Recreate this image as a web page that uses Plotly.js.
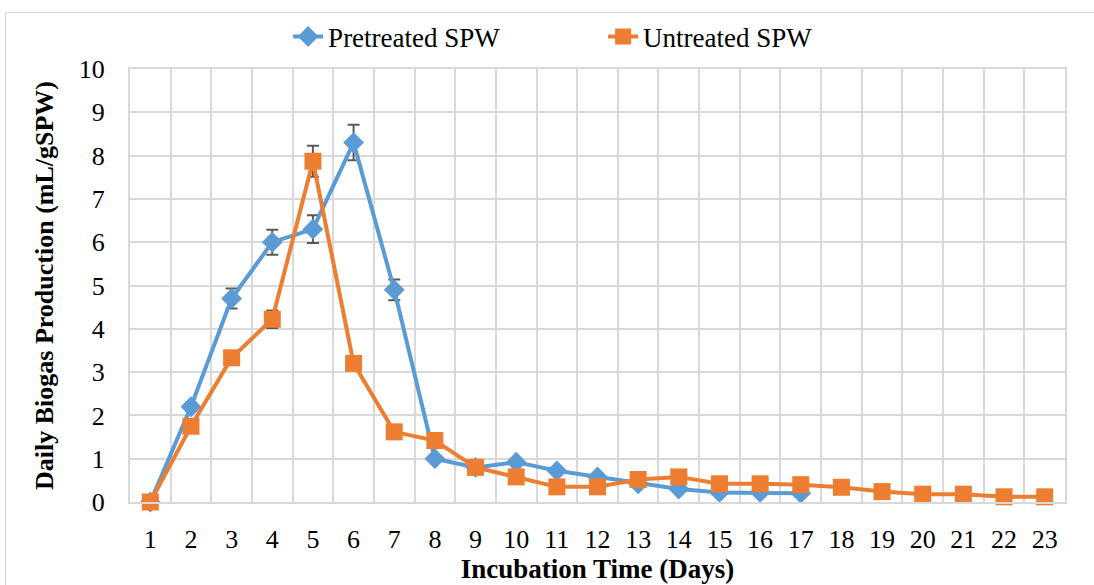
<!DOCTYPE html>
<html>
<head>
<meta charset="utf-8">
<script src="https://cdn.plot.ly/plotly-3.0.1.min.js"></script>
<style>
  html, body { margin: 0; padding: 0; background: #fff; }
  #wrap { position: relative; width: 1094px; height: 585px; overflow: hidden; }
  #chart { position: absolute; left: 0; top: 0; width: 1094px; height: 585px; }
  #frame { position: absolute; left: 5px; top: 12px; width: 1100px; height: 600px; border: 1.5px solid #d9d9d9; box-sizing: border-box; pointer-events: none; }
</style>
</head>
<body>
<div id="wrap">
  <div id="chart"></div>
  <div id="frame"></div>
</div>
<script>
// Categories (days)
const days = ['1','2','3','4','5','6','7','8','9','10','11','12','13','14','15','16','17','18','19','20','21','22','23'];
const pretreatedDays = days.slice(0, 17);

// Series values (mL/gSPW)
const pretreated = [0, 2.2, 4.7, 6.0, 6.3, 8.3, 4.9, 1.0, 0.8, 0.92, 0.72, 0.58, 0.42, 0.3, 0.22, 0.22, 0.2];
const pretreatedErr = [0, 0.1, 0.23, 0.29, 0.32, 0.41, 0.24, 0, 0, 0, 0, 0, 0, 0, 0, 0, 0];

const untreated = [0, 1.75, 3.33, 4.22, 7.87, 3.2, 1.62, 1.42, 0.8, 0.58, 0.35, 0.35, 0.52, 0.58, 0.42, 0.42, 0.4, 0.34, 0.24, 0.18, 0.18, 0.12, 0.12];
const untreatedErr = [0, 0.1, 0.1, 0.2, 0.36, 0.1, 0, 0, 0, 0, 0, 0, 0, 0, 0, 0, 0, 0, 0, 0, 0, 0, 0];

const yTicks = [0,1,2,3,4,5,6,7,8,9,10];

const FONT = 'Liberation Serif, Times New Roman, serif';
const BLUE = '#5B9BD5';
const ORANGE = '#ED7D31';
const GRID = '#d9d9d9';

const traces = [
  {
    name: 'Pretreated SPW',
    x: pretreatedDays, y: pretreated,
    type: 'scatter', mode: 'lines+markers',
    line: { color: BLUE, width: 4 },
    marker: { symbol: 'diamond', size: 16, color: BLUE },
    error_y: { type: 'data', array: pretreatedErr, visible: true, color: '#595959', thickness: 2, width: 6 },
    cliponaxis: false
  },
  {
    name: 'Untreated SPW',
    x: days, y: untreated,
    type: 'scatter', mode: 'lines+markers',
    line: { color: ORANGE, width: 4 },
    marker: { symbol: 'square', size: 17, color: ORANGE },
    error_y: { type: 'data', array: untreatedErr, visible: true, color: '#595959', thickness: 2, width: 6 },
    cliponaxis: false
  }
];

const layout = {
  width: 1094, height: 585,
  margin: { l: 130, r: 29, t: 69, b: 83 },
  paper_bgcolor: '#ffffff', plot_bgcolor: '#ffffff',
  font: { family: FONT, size: 25, color: '#000' },
  showlegend: true,
  legend: {
    orientation: 'h', x: 0.506, xanchor: 'center', y: 1.074, yanchor: 'middle',
    font: { family: FONT, size: 27, color: '#000' },
    entrywidth: 270, entrywidthmode: 'pixels',
    bgcolor: 'rgba(0,0,0,0)'
  },
  xaxis: {
    type: 'category',
    categoryorder: 'array', categoryarray: days,
    range: [-0.5, 22.5], autorange: false,
    tickson: 'boundaries',
    showgrid: true, gridcolor: GRID, gridwidth: 2,
    showline: true, linecolor: GRID, linewidth: 2, mirror: true,
    ticks: '', zeroline: false,
    tickfont: { family: FONT, size: 26, color: '#000' },
    ticklabelstandoff: 13,
    title: { text: '<b>Incubation Time (Days)</b>', font: { family: FONT, size: 27, color: '#000' }, standoff: 6 }
  },
  yaxis: {
    range: [0, 10], autorange: false, tickvals: yTicks, ticktext: yTicks.map(String),
    showgrid: true, gridcolor: GRID, gridwidth: 2,
    showline: true, linecolor: GRID, linewidth: 2, mirror: true,
    zeroline: false, ticks: '',
    tickfont: { family: FONT, size: 26, color: '#000' },
    ticklabelstandoff: 18,
    title: { text: '<b>Daily Biogas Production (mL/gSPW)</b>', font: { family: FONT, size: 26, color: '#000' }, standoff: 18 }
  }
};

Plotly.newPlot('chart', traces, layout, { displayModeBar: false, staticPlot: true });
</script>
</body>
</html>
